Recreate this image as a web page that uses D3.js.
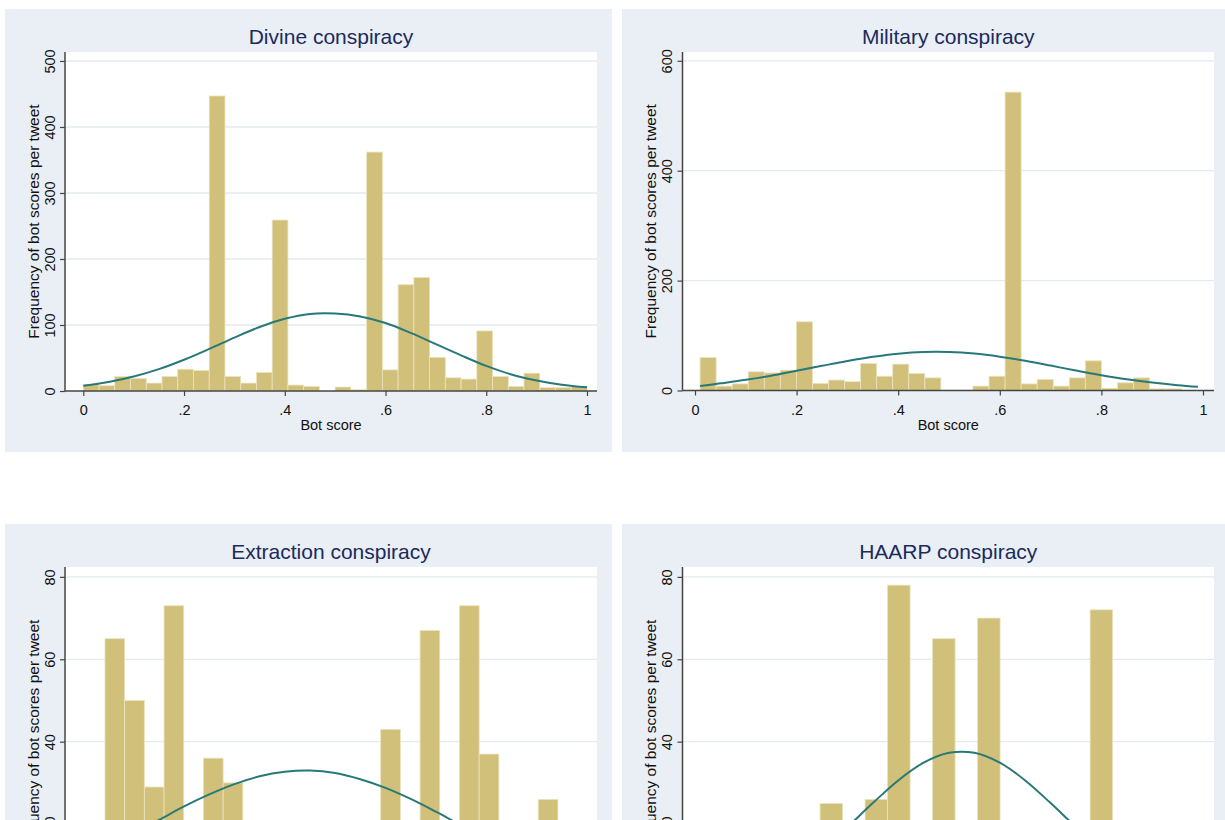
<!DOCTYPE html>
<html>
<head>
<meta charset="utf-8">
<script src="https://cdn.jsdelivr.net/npm/d3@7"></script>
<style>
  body { margin: 0; background: #fff; }
  svg { display: block; }
  text { font-family: "Liberation Sans", Arial, Helvetica, sans-serif; }
</style>
</head>
<body>
<div id="chart"></div>
<script>
// ---- data ----
const titles = ["Divine conspiracy", "Military conspiracy", "Extraction conspiracy", "HAARP conspiracy"];

// histogram bins: first edge and width (bot score units)
const binStarts = [0, 0.01, 0.043, 0.069];
const binWidths = [1 / 32, 0.0316, 0.0391, 0.0443];

const divineCounts = [10, 8, 22, 19, 12, 22, 33, 31, 447, 22, 12, 28, 259, 9, 7, 0,
                      6, 2, 362, 32, 161, 172, 51, 20, 18, 91, 22, 7, 27, 5, 5, 7];
const militaryCounts = [60, 8, 12, 34, 32, 37, 125, 13, 19, 16, 49, 26, 48, 31, 23, 0,
                        0, 8, 26, 543, 12, 20, 8, 23, 54, 4, 14, 23, 3, 3, 0];
const extractionCounts = [65, 50, 29, 73, 12, 36, 30, 8, 14, 5, 10, 6, 9, 15, 43, 11,
                          67, 7, 73, 37, 13, 4, 26];
const haarpCounts = [2, 0, 4, 6, 25, 10, 26, 78, 12, 65, 8, 70, 15, 5, 9, 3, 72, 6, 2, 1];

// normal density overlay
const divineCurveX = [0, .05, .1, .15, .2, .25, .3, .35, .4, .45, .5, .55, .6, .65, .7, .75, .8, .85, .9, .95, 1];
const divineCurveY = [8, 13.6, 21.9, 33.1, 47.3, 63.7, 80.9, 96.9, 109.5, 116.8, 117.4, 113, 103, 88, 71, 54, 38, 25, 16, 9.5, 5.5];
const militaryCurveX = [.01, .05, .1, .15, .2, .25, .3, .35, .4, .45, .5, .55, .6, .65, .7, .75, .8, .85, .9, .95, .99];
const militaryCurveY = [8, 13, 19.5, 27, 36, 44.9, 53.6, 61.3, 67, 70.1, 70.1, 67.2, 61.5, 54, 45.3, 36.3, 27.9, 20.5, 14.4, 9.7, 6.8];
const extractionCurveX = [.043, .1, .15, .2, .25, .3, .35, .4, .45, .5, .55, .6, .65, .7, .75, .8, .85, .9, .942];
const extractionCurveY = [14.2, 17.8, 21.0, 24.3, 27.2, 29.7, 31.6, 32.7, 33.0, 32.4, 30.9, 28.8, 26.1, 23.0, 19.7, 16.5, 13.4, 10.6, 8.5];
const haarpCurveX = [.069, .1, .15, .2, .25, .3, .35, .4, .45, .5, .55, .6, .65, .7, .75, .8, .85, .9, .955];
const haarpCurveY = [2.4, 3.5, 5.9, 9.4, 13.9, 19.3, 25.1, 30.6, 34.9, 37.3, 37.3, 34.9, 30.6, 25.1, 19.3, 13.9, 9.4, 5.9, 3.3];

const yTicks = [[0, 100, 200, 300, 400, 500], [0, 200, 400, 600], [0, 20, 40, 60, 80], [0, 20, 40, 60, 80]];
const yMax = [513.6, 616, 82.4, 82.4];
const xTicks = [0, .2, .4, .6, .8, 1];
const xTickLabels = ["0", ".2", ".4", ".6", ".8", "1"];
const xTitle = "Bot score";
const yTitle = "Frequency of bot scores per tweet";

const counts = [divineCounts, militaryCounts, extractionCounts, haarpCounts];
const curvesX = [divineCurveX, militaryCurveX, extractionCurveX, haarpCurveX];
const curvesY = [divineCurveY, militaryCurveY, extractionCurveY, haarpCurveY];

// ---- layout ----
const W = 1225, H = 820;
const layout = [
  {bx: 5,   by: 9,   bw: 607, bh: 443, pl: 65,    pr: 597,  pt: 52,  pb: 391,   x0: 83.3, x1: 587},
  {bx: 622, by: 9,   bw: 610, bh: 443, pl: 682.5, pr: 1214, pt: 52,  pb: 390.5, x0: 695,  x1: 1203},
  {bx: 5,   by: 524, bw: 607, bh: 443, pl: 65,    pr: 597,  pt: 567, pb: 906.5, x0: 83.3, x1: 587},
  {bx: 622, by: 524, bw: 610, bh: 443, pl: 682.5, pr: 1214, pt: 567, pb: 906.5, x0: 695,  x1: 1203}
];

const panelBg = "#e9eff4";
const gridCol = "#e3eaf0";
const barFill = "#d0c07a";
const barLine = "#ebe3bf";
const curveCol = "#287878";
const titleCol = "#1c2a5c";
const axisCol = "#444";
const textCol = "#111";

const svg = d3.select("#chart").append("svg")
  .attr("width", W)
  .attr("height", H);

layout.forEach((L, i) => {
  const g = svg.append("g");

  g.append("rect")
    .attr("x", L.bx).attr("y", L.by)
    .attr("width", L.bw).attr("height", L.bh)
    .attr("fill", panelBg);

  g.append("rect")
    .attr("x", L.pl).attr("y", L.pt)
    .attr("width", L.pr - L.pl).attr("height", L.pb - L.pt)
    .attr("fill", "#fff");

  const x = d3.scaleLinear().domain([0, 1]).range([L.x0, L.x1]);
  const y = d3.scaleLinear().domain([0, yMax[i]]).range([L.pb, L.pt]);

  // gridlines
  g.selectAll(".grid").data(yTicks[i].filter(d => d > 0)).enter()
    .append("line")
    .attr("x1", L.pl).attr("x2", L.pr)
    .attr("y1", d => y(d)).attr("y2", d => y(d))
    .attr("stroke", gridCol)
    .attr("stroke-width", 1.3);

  // bars
  const bins = counts[i].map((c, k) => ({
    lo: binStarts[i] + k * binWidths[i],
    hi: binStarts[i] + (k + 1) * binWidths[i],
    c: c
  }));
  g.selectAll(".bar").data(bins.filter(d => d.c > 0)).enter()
    .append("rect")
    .attr("x", d => x(d.lo))
    .attr("width", d => x(d.hi) - x(d.lo))
    .attr("y", d => y(d.c))
    .attr("height", d => y(0) - y(d.c))
    .attr("fill", barFill)
    .attr("stroke", barLine)
    .attr("stroke-width", 0.8);

  // normal curve
  const line = d3.line()
    .x(d => x(d[0]))
    .y(d => y(d[1]))
    .curve(d3.curveCatmullRom);
  g.append("path")
    .datum(curvesX[i].map((v, k) => [v, curvesY[i][k]]))
    .attr("d", line)
    .attr("fill", "none")
    .attr("stroke", curveCol)
    .attr("stroke-width", 2);

  // y axis
  const ya = g.append("g")
    .attr("transform", `translate(${L.pl},0)`)
    .call(d3.axisLeft(y).tickValues(yTicks[i]).tickSize(5).tickFormat(d3.format("d")));
  ya.select(".domain").attr("d", `M0,${L.pt}V${L.pb}`).attr("stroke", axisCol).attr("stroke-width", 1.5);
  ya.selectAll(".tick line").attr("stroke", axisCol).attr("stroke-width", 1.2);
  ya.selectAll(".tick text")
    .attr("x", null).attr("dy", null)
    .attr("transform", "translate(-10.5,0) rotate(-90)")
    .attr("text-anchor", "middle")
    .attr("font-size", 14.5)
    .attr("fill", textCol);

  // x axis (labels only where they fall inside the picture)
  const xa = g.append("g")
    .attr("transform", `translate(0,${L.pb})`)
    .call(d3.axisBottom(x).tickValues(xTicks).tickSize(5).tickFormat((d, k) => xTickLabels[k]));
  xa.select(".domain").attr("d", `M${L.pl},0H${L.pr}`).attr("stroke", axisCol).attr("stroke-width", 1.5);
  xa.selectAll(".tick line").attr("stroke", axisCol).attr("stroke-width", 1.2);
  if (L.pb + 24 < H) {
    xa.selectAll(".tick text")
      .attr("y", 24).attr("dy", null)
      .attr("font-size", 14.5)
      .attr("fill", textCol);
    g.append("text")
      .attr("x", (L.pl + L.pr) / 2)
      .attr("y", L.pb + 39)
      .attr("text-anchor", "middle")
      .attr("font-size", 14.5)
      .attr("fill", textCol)
      .text(xTitle);
  } else {
    xa.selectAll(".tick text").remove();
  }

  // panel title
  g.append("text")
    .attr("x", (L.pl + L.pr) / 2)
    .attr("y", L.pt - 8.5)
    .attr("text-anchor", "middle")
    .attr("font-size", 21)
    .attr("fill", titleCol)
    .text(titles[i]);

  g.append("text")
    .attr("transform", `translate(${L.pl - 26.5},${(L.pt + L.pb) / 2}) rotate(-90)`)
    .attr("text-anchor", "middle")
    .attr("font-size", 15.5)
    .attr("fill", textCol)
    .text(yTitle);
});
</script>
</body>
</html>
